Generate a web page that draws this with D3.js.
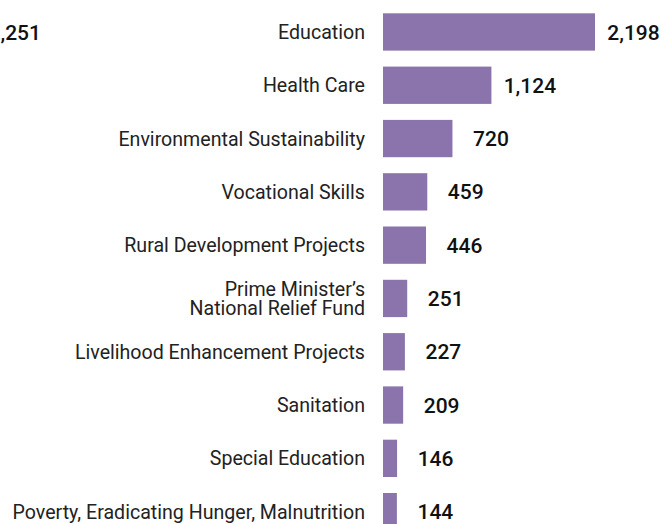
<!DOCTYPE html>
<html>
<head>
<meta charset="utf-8">
<script src="https://cdn.jsdelivr.net/npm/d3@7"></script>
<style>
  html, body { margin: 0; padding: 0; background: #fff; }
  svg { display: block; }
</style>
</head>
<body>
<svg id="chart" width="669" height="524"></svg>
<script>
const categories = [
  ["Education"],
  ["Health Care"],
  ["Environmental Sustainability"],
  ["Vocational Skills"],
  ["Rural Development Projects"],
  ["Prime Minister\u2019s", "National Relief Fund"],
  ["Livelihood Enhancement Projects"],
  ["Sanitation"],
  ["Special Education"],
  ["Poverty, Eradicating Hunger, Malnutrition"]
];
const values = [2198, 1124, 720, 459, 446, 251, 227, 209, 146, 144];
const neighbourLabel = "2,251";

const svg = d3.select("#chart");
const fmt = d3.format(",");
const font = "Roboto, 'Noto Sans', sans-serif";

const ids = categories.map((c, i) => i);
const y = d3.scaleBand().domain(ids).range([5.3, 538.3]).paddingInner(0.3).paddingOuter(0.15);
const x = d3.scaleLinear().domain([0, 2198]).range([383, 595]);

// cut-off label from neighbouring panel
svg.append("text")
  .attr("x", 41).attr("y", y(0) + y.bandwidth() / 2)
  .attr("dy", "0.36em")
  .attr("text-anchor", "end")
  .attr("font-family", font).attr("font-size", 21).attr("font-weight", 500)
  .attr("fill", "#111")
  .text(neighbourLabel);

svg.append("g").selectAll("rect")
  .data(values)
  .join("rect")
  .attr("x", x(0))
  .attr("y", (d, i) => y(i))
  .attr("width", d => x(d) - x(0))
  .attr("height", y.bandwidth())
  .attr("fill", "#8b74ac");

svg.append("g").selectAll("text")
  .data(values)
  .join("text")
  .attr("x", d => x(d) + 38.5)
  .attr("y", (d, i) => y(i) + y.bandwidth() / 2)
  .attr("dy", "0.36em")
  .attr("text-anchor", "middle")
  .attr("font-family", font).attr("font-size", 21).attr("font-weight", 500)
  .attr("fill", "#111")
  .text(d => fmt(d));

const catG = svg.append("g");
categories.forEach((lines, i) => {
  const cy = y(i) + y.bandwidth() / 2;
  const lh = 19;
  const t = catG.append("text")
    .attr("text-anchor", "end")
    .attr("font-family", font).attr("font-size", 19.6)
    .attr("fill", "#222");
  lines.forEach((ln, j) => {
    t.append("tspan")
      .attr("x", 365)
      .attr("y", cy + (j - (lines.length - 1) / 2) * lh)
      .attr("dy", "0.36em")
      .text(ln);
  });
});
</script>
</body>
</html>
